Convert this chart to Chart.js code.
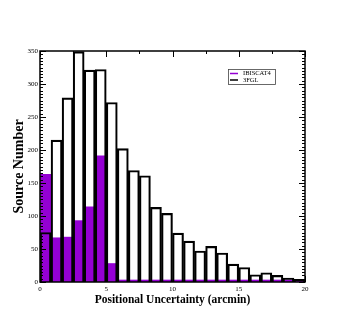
<!DOCTYPE html>
<html>
<head>
<meta charset="utf-8">
<script src="https://cdn.jsdelivr.net/npm/chart.js@4/dist/chart.umd.min.js"></script>
<style>
  html, body { margin: 0; padding: 0; background: #fff; }
  #wrap { width: 343px; height: 333px; }
</style>
</head>
<body>
<div id="wrap"><canvas id="hist"></canvas></div>
<script>
// 24 bins of width 20/24 arcmin between 0 and 20
const binWidth = 20 / 24;
const binCenters = Array.from({ length: 24 }, (_, i) => (i + 0.5) * binWidth);

const ibiscatCounts = [163, 67, 68, 93, 114, 191, 28, 0, 0, 0, 0, 0,
                       0, 0, 0, 0, 0, 0, 0, 0, 0, 0, 0, 0];
const fglCounts = [75, 215, 279, 349, 321, 322, 272, 202, 169, 161, 113, 104,
                   74, 62, 47, 54, 44, 27, 22, 11, 14, 10, 6, 4];

const seriesNames = ['IBISCAT4', '3FGL'];
const seriesColors = ['#9400d3', '#000000'];

const serif = "'Liberation Serif', 'DejaVu Serif', serif";

// frame, inward ticks on all four sides, legend box inside the plot
const framePlugin = {
  id: 'frame',
  afterDatasetsDraw(chart) {
    const { ctx, chartArea: a, scales } = chart;
    const x = scales.xv, y = scales.y;
    ctx.save();
    ctx.strokeStyle = '#000';
    ctx.lineWidth = 1;
    for (let v = 0; v <= 350; v += 5) {
      const py = Math.round(y.getPixelForValue(v)) + 0.5;
      const len = v % 50 === 0 ? 6 : 3;
      ctx.beginPath();
      ctx.moveTo(a.left, py); ctx.lineTo(a.left + len, py);
      ctx.moveTo(a.right, py); ctx.lineTo(a.right - len, py);
      ctx.stroke();
    }
    for (let v = 0; v <= 20; v += 2.5) {
      const px = Math.round(x.getPixelForValue(v)) + 0.5;
      const len = v % 5 === 0 ? 6 : 3;
      ctx.beginPath();
      ctx.moveTo(px, a.top); ctx.lineTo(px, a.top + len);
      ctx.moveTo(px, a.bottom); ctx.lineTo(px, a.bottom - len);
      ctx.stroke();
    }
    ctx.lineWidth = 1.5;
    ctx.strokeRect(a.left, a.top, a.right - a.left, a.bottom - a.top);

    // legend
    const lx = 228, ly = 69, lw = 47, lh = 15;
    ctx.fillStyle = '#fff';
    ctx.fillRect(lx, ly, lw, lh);
    ctx.lineWidth = 0.8;
    ctx.strokeStyle = '#444';
    ctx.strokeRect(lx + 0.5, ly + 0.5, lw, lh);
    ctx.font = '6.5px ' + serif;
    ctx.textBaseline = 'middle';
    seriesNames.forEach((name, i) => {
      const yy = ly + 4.5 + i * 6.5;
      ctx.strokeStyle = seriesColors[i];
      ctx.lineWidth = 1.5;
      ctx.beginPath();
      ctx.moveTo(lx + 2, yy); ctx.lineTo(lx + 10, yy);
      ctx.stroke();
      ctx.fillStyle = '#000';
      ctx.fillText(name, lx + 15, yy);
    });
    ctx.restore();
  }
};

new Chart(document.getElementById('hist'), {
  type: 'bar',
  data: {
    labels: binCenters.map(c => c.toFixed(3)),
    datasets: [
      {
        label: seriesNames[0],
        data: ibiscatCounts,
        backgroundColor: seriesColors[0],
        borderWidth: 0,
        minBarLength: 2,
        order: 2
      },
      {
        label: seriesNames[1],
        data: fglCounts,
        backgroundColor: 'rgba(0,0,0,0)',
        borderColor: seriesColors[1],
        borderWidth: 1.5,
        order: 1
      }
    ]
  },
  options: {
    responsive: true,
    maintainAspectRatio: false,
    animation: false,
    datasets: {
      bar: { grouped: false, barPercentage: 1, categoryPercentage: 1 }
    },
    layout: { padding: { top: 51, right: 38, bottom: 21, left: 0 } },
    plugins: { legend: { display: false }, tooltip: { enabled: false } },
    scales: {
      x: { type: 'category', display: false, offset: true },
      xv: {
        type: 'linear',
        position: 'bottom',
        min: 0,
        max: 20,
        offset: false,
        grid: { display: false, drawTicks: false, offset: false },
        border: { display: false },
        ticks: { stepSize: 5, color: '#000', padding: 3, font: { family: serif, size: 7 } },
        title: { display: true, text: 'Positional Uncertainty (arcmin)', color: '#000',
                 padding: { top: 0, bottom: 5 }, font: { family: serif, size: 11.5, weight: 'bold' } },
        afterFit: s => { s.height = 30; }
      },
      y: {
        min: 0,
        max: 350,
        grid: { display: false, drawTicks: false },
        border: { display: false },
        ticks: { stepSize: 50, color: '#000', padding: 2, font: { family: serif, size: 7 } },
        title: { display: true, text: 'Source Number', color: '#000',
                 padding: { top: 11, bottom: 2 }, font: { family: serif, size: 14, weight: 'bold' } },
        afterFit: s => { s.width = 40; }
      }
    }
  },
  plugins: [framePlugin]
});
</script>
</body>
</html>
